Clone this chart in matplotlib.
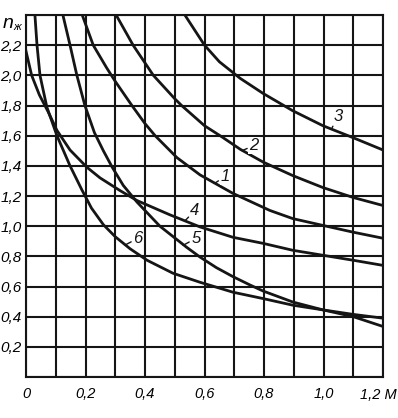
import numpy as np
import matplotlib.pyplot as plt

plt.rcParams['font.family'] = ['Liberation Sans Narrow', 'Liberation Sans', 'DejaVu Sans']

# curves (x = M, y = n_zh)
x1 = [0.189, 0.226, 0.271, 0.30, 0.356, 0.40, 0.434, 0.507, 0.585, 0.696, 0.82, 0.897, 0.998, 1.10, 1.20]
y1 = [2.40, 2.20, 2.05, 1.96, 1.80, 1.68, 1.60, 1.455, 1.34, 1.217, 1.104, 1.05, 1.005, 0.96, 0.92]

x2 = [0.303, 0.36, 0.428, 0.50, 0.523, 0.60, 0.66, 0.72, 0.797, 0.897, 0.998, 1.10, 1.20]
y2 = [2.40, 2.20, 2.00, 1.845, 1.80, 1.666, 1.59, 1.51, 1.425, 1.335, 1.256, 1.19, 1.137]

x3 = [0.534, 0.60, 0.65, 0.72, 0.797, 0.897, 0.998, 1.099, 1.20]
y3 = [2.40, 2.20, 2.09, 1.98, 1.88, 1.765, 1.666, 1.587, 1.505]

x4 = [0.0, 0.019, 0.045, 0.074, 0.104, 0.148, 0.205, 0.249, 0.316, 0.373, 0.484, 0.585, 0.696, 0.797, 0.897, 0.998, 1.10, 1.20]
y4 = [2.16, 2.00, 1.87, 1.76, 1.635, 1.505, 1.39, 1.32, 1.236, 1.17, 1.075, 0.995, 0.926, 0.886, 0.84, 0.807, 0.774, 0.74]

x5 = [0.124, 0.148, 0.171, 0.198, 0.23, 0.26, 0.29, 0.327, 0.373, 0.45, 0.54, 0.585, 0.64, 0.696, 0.753, 0.797, 0.897, 0.998, 1.10, 1.20]
y5 = [2.40, 2.20, 2.00, 1.80, 1.62, 1.50, 1.39, 1.27, 1.16, 1.00, 0.86, 0.795, 0.725, 0.665, 0.61, 0.57, 0.497, 0.445, 0.40, 0.335]

x6 = [0.03, 0.037, 0.047, 0.07, 0.104, 0.148, 0.188, 0.22, 0.26, 0.30, 0.35, 0.407, 0.494, 0.585, 0.696, 0.797, 0.897, 0.998, 1.10, 1.20]
y6 = [2.40, 2.20, 2.00, 1.79, 1.60, 1.40, 1.24, 1.12, 1.01, 0.93, 0.85, 0.774, 0.688, 0.628, 0.562, 0.52, 0.476, 0.445, 0.415, 0.39]

curves = [('1', x1, y1), ('2', x2, y2), ('3', x3, y3),
          ('4', x4, y4), ('5', x5, y5), ('6', x6, y6)]

x_ticks = [0.0, 0.2, 0.4, 0.6, 0.8, 1.0]
y_ticks = [0.2, 0.4, 0.6, 0.8, 1.0, 1.2, 1.4, 1.6, 1.8, 2.0, 2.2]

fig = plt.figure(figsize=(3.98, 4.18), dpi=100)
ax = fig.add_axes([26 / 398, 41 / 418, 357 / 398, 362 / 418])

ink = '#151515'
for name, xs, ys in curves:
    ax.plot(xs, ys, color=ink, lw=2.0, solid_joinstyle='round', clip_on=True)

ax.set_xlim(0, 1.2)
ax.set_ylim(0, 2.4)
ax.set_xticks(np.arange(0, 1.21, 0.1), minor=True)
ax.set_xticks(x_ticks)
ax.set_xticklabels([f'{v:.1f}'.replace('.', ',') if v else '0' for v in x_ticks],
                   style='italic', fontsize=10.5)
ax.set_yticks(y_ticks)
ax.set_yticklabels([f'{v:.1f}'.replace('.', ',') for v in y_ticks],
                   style='italic', fontsize=11)
ax.set_yticks(np.arange(0, 2.41, 0.2), minor=True)
ax.tick_params(which='both', length=0)
ax.tick_params(axis='x', pad=7)
ax.tick_params(axis='y', pad=3)
ax.grid(which='both', color=ink, lw=1.5)
ax.set_axisbelow(True)
for s in ax.spines.values():
    s.set_linewidth(1.5)
    s.set_color(ink)

# last x label together with the axis name
ax.text(1.123, -0.07, '1,2 М', style='italic', fontsize=10.5, va='top', ha='left',
        clip_on=False)

# axis name at top left
fig.text(3 / 398, 1 - 28 / 418, 'n', style='italic', fontsize=14, ha='left', va='baseline')
fig.text(13 / 398, 1 - 30 / 418, 'ж', style='italic', fontsize=8, ha='left', va='baseline')

# curve numbers with short leaders
labels = {'3': ((1.029, 1.653), (1.049, 1.726)),
          '2': ((0.726, 1.50), (0.766, 1.535)),
          '1': ((0.635, 1.285), (0.669, 1.33)),
          '4': ((0.534, 1.035), (0.568, 1.104)),
          '5': ((0.528, 0.873), (0.571, 0.919)),
          '6': ((0.333, 0.875), (0.376, 0.919))}
for name, (xy, xyt) in labels.items():
    ax.annotate(name, xy=xy, xytext=xyt, ha='center', va='center',
                style='italic', fontsize=12, color=ink,
                bbox=dict(boxstyle='square,pad=0.05', fc='white', ec='none'),
                arrowprops=dict(arrowstyle='-', lw=1.0, color=ink, shrinkA=1, shrinkB=0))

fig.savefig('out.png', dpi=100, facecolor='white')
